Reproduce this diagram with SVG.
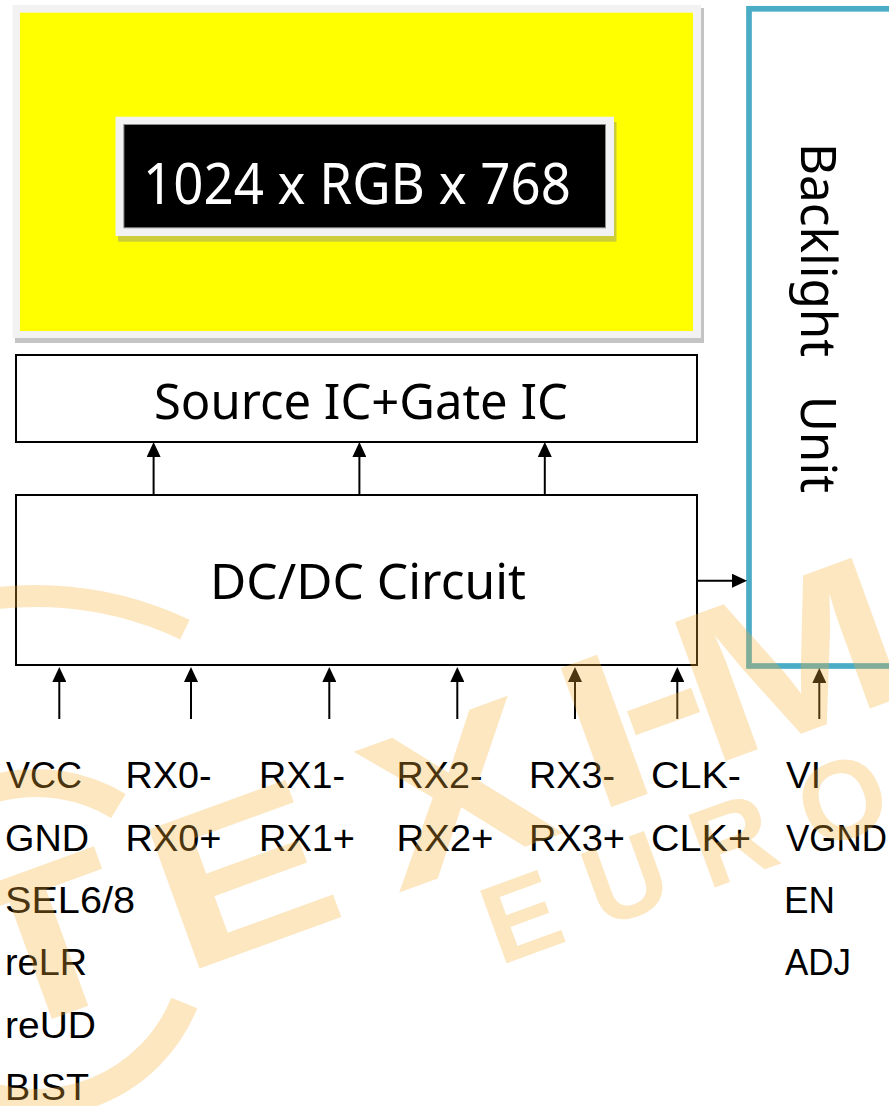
<svg xmlns="http://www.w3.org/2000/svg" width="889" height="1106" viewBox="0 0 889 1106">
<defs>
<style>
.box{fill:#fff;stroke:#000;stroke-width:2}
.big{font-family:"Noto Sans","Open Sans","Liberation Sans",sans-serif;font-size:50px;fill:#000}
.lbl{font-family:"Liberation Sans",Arial,sans-serif;font-size:37px;fill:#000}
.conn{stroke:#000;stroke-width:2;fill:none;marker-end:url(#ah)}
.wm{fill:#F7B135;font-family:"Liberation Sans",Arial,sans-serif;font-weight:bold}
.arc{fill:none;stroke:#F7B135}
</style>
<marker id="ah" viewBox="0 0 15 14" refX="9" refY="7" markerWidth="15" markerHeight="14" markerUnits="userSpaceOnUse" orient="auto"><path d="M0,0 L15,7 L0,14 z" fill="#000"/></marker>
</defs>
<rect width="889" height="1106" fill="#fff"/>

<g id="panel">
<rect x="15" y="8" width="689" height="335" fill="#c4c4c4"/>
<rect x="12.5" y="5" width="688.5" height="333" fill="#f2f2f2"/>
<rect x="20" y="12.7" width="673" height="318.3" fill="#ffff00"/>
</g>
<g id="resolution">
<rect x="118" y="122" width="498.5" height="119.7" fill="#cdcd3c"/>
<rect x="115.5" y="116.7" width="498.5" height="119.3" fill="#f2f2f2"/>
<rect x="123.9" y="124.5" width="481.6" height="103.3" fill="#000" stroke="#8c8c8c" stroke-width="1"/>
<text x="143" y="204" font-family="Noto Sans, Open Sans, Liberation Sans, sans-serif" font-size="57" fill="#fff" textLength="428" lengthAdjust="spacingAndGlyphs">1024 x RGB x 768</text>
</g>

<g id="source-ic">
<rect class="box" x="16" y="355" width="681" height="87"/>
<text class="big" x="154" y="418.7" textLength="414" lengthAdjust="spacingAndGlyphs">Source IC+Gate IC</text>
</g>

<g id="dcdc">
<rect class="box" x="16" y="495" width="681" height="170"/>
<text class="big" x="210" y="599.3" textLength="316" lengthAdjust="spacingAndGlyphs">DC/DC Circuit</text>
</g>

<g id="backlight">
<rect x="749" y="8.8" width="200" height="657.2" fill="#fff" stroke="#4BACC6" stroke-width="5.7"/>
<text class="big" font-size="54" transform="translate(800.5,143) rotate(90)" x="0" y="0" textLength="350" lengthAdjust="spacingAndGlyphs" style="white-space:pre">Backlight   Unit</text>
</g>

<g id="connectors">
<path class="conn" d="M153.6 495 V448"/>
<path class="conn" d="M359.4 495 V448"/>
<path class="conn" d="M544.8 495 V448"/>
<path class="conn" d="M697 580.7 H741"/>
<path class="conn" d="M59.3 719 V673"/>
<path class="conn" d="M191 719 V673"/>
<path class="conn" d="M329.3 719 V673"/>
<path class="conn" d="M457.3 719 V673"/>
<path class="conn" d="M575 719 V673"/>
<path class="conn" d="M677.3 719 V673"/>
<path class="conn" d="M819.3 719 V674"/>
</g>

<g id="labels">
<text class="lbl" x="6" y="788.3" textLength="76" lengthAdjust="spacingAndGlyphs">VCC</text>
<text class="lbl" x="5" y="850.6" textLength="84" lengthAdjust="spacingAndGlyphs">GND</text>
<text class="lbl" x="5" y="912.9" textLength="130" lengthAdjust="spacingAndGlyphs">SEL6/8</text>
<text class="lbl" x="5" y="975.2" textLength="82" lengthAdjust="spacingAndGlyphs">reLR</text>
<text class="lbl" x="5" y="1037.5" textLength="91" lengthAdjust="spacingAndGlyphs">reUD</text>
<text class="lbl" x="5" y="1099.8" textLength="84" lengthAdjust="spacingAndGlyphs">BIST</text>
<text class="lbl" x="125.5" y="788.3" textLength="86" lengthAdjust="spacingAndGlyphs">RX0-</text>
<text class="lbl" x="125.5" y="850.6" textLength="96" lengthAdjust="spacingAndGlyphs">RX0+</text>
<text class="lbl" x="259" y="788.3" textLength="86" lengthAdjust="spacingAndGlyphs">RX1-</text>
<text class="lbl" x="259" y="850.6" textLength="96" lengthAdjust="spacingAndGlyphs">RX1+</text>
<text class="lbl" x="396.5" y="788.3" textLength="86" lengthAdjust="spacingAndGlyphs">RX2-</text>
<text class="lbl" x="396.5" y="850.6" textLength="97" lengthAdjust="spacingAndGlyphs">RX2+</text>
<text class="lbl" x="529" y="788.3" textLength="86" lengthAdjust="spacingAndGlyphs">RX3-</text>
<text class="lbl" x="529" y="850.6" textLength="96" lengthAdjust="spacingAndGlyphs">RX3+</text>
<text class="lbl" x="651" y="788.3" textLength="90" lengthAdjust="spacingAndGlyphs">CLK-</text>
<text class="lbl" x="651" y="850.6" textLength="100" lengthAdjust="spacingAndGlyphs">CLK+</text>
<text class="lbl" x="786" y="788.3" textLength="35" lengthAdjust="spacingAndGlyphs">VI</text>
<text class="lbl" x="786" y="850.6" textLength="101" lengthAdjust="spacingAndGlyphs">VGND</text>
<text class="lbl" x="784" y="912.9" textLength="51" lengthAdjust="spacingAndGlyphs">EN</text>
<text class="lbl" x="785" y="975.2" textLength="66" lengthAdjust="spacingAndGlyphs">ADJ</text>
</g>

<g id="watermark" opacity="0.3">
<path class="arc" stroke-width="22" d="M -290 824 A 347 347 0 0 1 184.9 629.6"/>
<path class="arc" stroke-width="28" d="M 184.3 1002.9 A 160 160 0 1 1 118.4 805.9"/>
<text class="wm" font-size="215" transform="translate(8,1035) rotate(-20) scale(1.25,1)" x="-12.8 147.8 331.2 501.6 545.6 600" y="0 3 0 -8 -24 -12">TEXI-M</text>
<text class="wm" font-size="112" letter-spacing="33" transform="translate(499.5,965.7) rotate(-20)">EURO</text>
</g>
</svg>
